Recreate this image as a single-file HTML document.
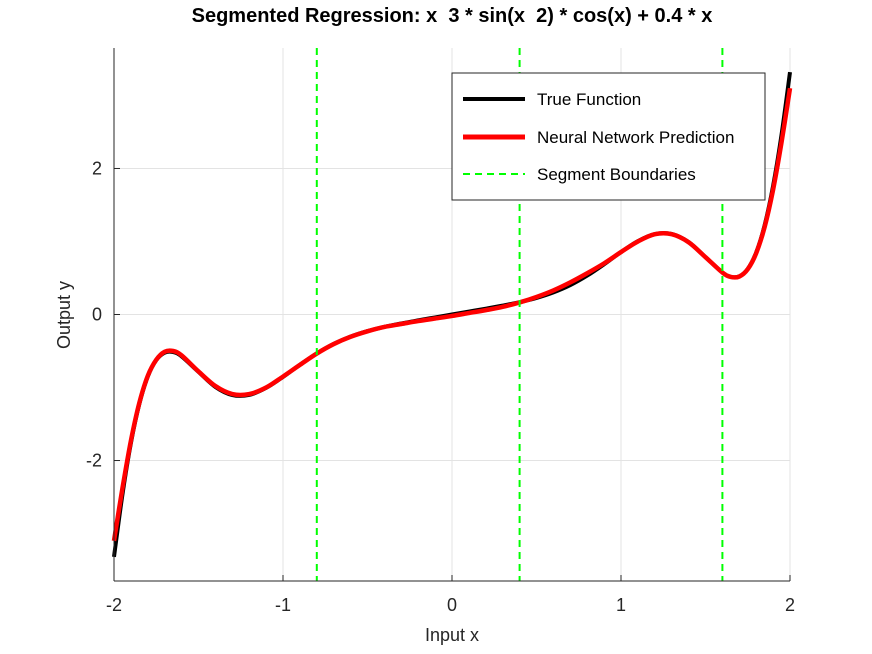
<!DOCTYPE html>
<html><head><meta charset="utf-8"><style>
html,body{margin:0;padding:0;background:#fff;}
svg{display:block;font-family:"Liberation Sans",sans-serif;}
</style></head><body>
<svg id="chart" width="872" height="654" viewBox="0 0 872 654">
<text x="452" y="22" text-anchor="middle" font-size="20" font-weight="bold" fill="#000" style="white-space:pre" xml:space="preserve">Segmented Regression: x  3 * sin(x  2) * cos(x) + 0.4 * x</text>
<g id="grid"></g>
<g id="series"></g>
<g id="axes"></g>
<text x="452" y="641" text-anchor="middle" font-size="18" fill="#262626">Input x</text>
<text x="70" y="315" text-anchor="middle" font-size="18" fill="#262626" transform="rotate(-90 70 315)">Output y</text>
<g>
<rect x="452" y="73" width="313" height="127" fill="#fff" stroke="#262626" stroke-width="1"/>
<line x1="463" y1="99" x2="525" y2="99" stroke="#000" stroke-width="4"/>
<text x="537" y="105" font-size="17" fill="#000">True Function</text>
<line x1="463" y1="137" x2="525" y2="137" stroke="#f00" stroke-width="5"/>
<text x="537" y="143" font-size="17" fill="#000">Neural Network Prediction</text>
<line x1="463" y1="174" x2="525" y2="174" stroke="#0f0" stroke-width="2" stroke-dasharray="7,5"/>
<text x="537" y="180" font-size="17" fill="#000">Segment Boundaries</text>
</g>
</svg>
<script>
const xValues=[-2,-1.95,-1.9,-1.85,-1.8,-1.75,-1.7,-1.65,-1.6,-1.5,-1.4,-1.3,-1.2,-1.1,-1,-0.9,-0.8,-0.7,-0.6,-0.5,-0.4,-0.3,-0.2,-0.1,0,0.1,0.2,0.3,0.4,0.5,0.6,0.7,0.8,0.9,1,1.1,1.2,1.3,1.4,1.5,1.6,1.65,1.7,1.75,1.8,1.85,1.9,1.95,2];
const trueValues=[-3.319,-2.464,-1.762,-1.225,-0.850,-0.625,-0.523,-0.515,-0.574,-0.786,-0.992,-1.103,-1.101,-1.005,-0.855,-0.688,-0.533,-0.403,-0.303,-0.227,-0.169,-0.122,-0.080,-0.040,0,0.040,0.080,0.122,0.169,0.227,0.303,0.403,0.533,0.688,0.855,1.005,1.101,1.103,0.992,0.786,0.574,0.515,0.523,0.625,0.850,1.225,1.762,2.464,3.319];
const predValues=[-3.10,-2.38,-1.73,-1.21,-0.84,-0.62,-0.51,-0.50,-0.56,-0.78,-0.98,-1.09,-1.09,-1.00,-0.85,-0.69,-0.535,-0.405,-0.305,-0.23,-0.17,-0.13,-0.09,-0.055,-0.02,0.02,0.06,0.105,0.165,0.24,0.33,0.44,0.565,0.70,0.855,1.00,1.10,1.10,0.99,0.785,0.575,0.515,0.52,0.62,0.84,1.20,1.71,2.36,3.10];
const boundaries=[-0.8,0.4,1.6];
const xTicks=[-2,-1,0,1,2];
const yTicks=[-2,0,2];
const NS="http://www.w3.org/2000/svg";
const L=114,R=790,T=48,B=581,xmin=-2,xmax=2,ymin=-3.65,ymax=3.65;
function sx(v){return L+(v-xmin)/(xmax-xmin)*(R-L);}
function sy(v){return B-(v-ymin)/(ymax-ymin)*(B-T);}
function mk(tag,attrs,parent){const e=document.createElementNS(NS,tag);for(const k in attrs)e.setAttribute(k,attrs[k]);parent.appendChild(e);return e;}
const grid=document.getElementById('grid'),axes=document.getElementById('axes'),series=document.getElementById('series');
xTicks.forEach(t=>{
 const g=mk('line',{x1:sx(t),x2:sx(t),y1:T,y2:B,stroke:'#e3e3e3','stroke-width':1},grid);
 
 
 const tk=mk('line',{x1:sx(t),x2:sx(t),y1:B,y2:B-6,stroke:'#262626','stroke-width':1},axes);
 
 
 const lb=mk('text',{x:sx(t),y:B+30,'text-anchor':'middle','font-size':18,fill:'#262626'},axes);
 lb.textContent=String(t);
 
 
});
yTicks.forEach(t=>{
 const g=mk('line',{x1:L,x2:R,y1:sy(t),y2:sy(t),stroke:'#e3e3e3','stroke-width':1},grid);
 
 
 const tk=mk('line',{x1:L,x2:L+6,y1:sy(t),y2:sy(t),stroke:'#262626','stroke-width':1},axes);
 
 
 const lb=mk('text',{x:L-12,y:sy(t)+6,'text-anchor':'end','font-size':18,fill:'#262626'},axes);
 lb.textContent=String(t);
 
 
});
const ax1=mk('line',{x1:L,x2:L,y1:T,y2:B,stroke:'#262626','stroke-width':1},axes);


const ax2=mk('line',{x1:L,x2:R,y1:B,y2:B,stroke:'#262626','stroke-width':1},axes);


function smooth(xs,ys){
 const p=xs.map((x,i)=>[sx(x),sy(ys[i])]);
 let d='M'+p[0][0]+','+p[0][1];
 for(let i=0;i<p.length-1;i++){
  const p0=p[Math.max(i-1,0)],p1=p[i],p2=p[i+1],p3=p[Math.min(i+2,p.length-1)];
  const c1=[p1[0]+(p2[0]-p0[0])/6,p1[1]+(p2[1]-p0[1])/6];
  const c2=[p2[0]-(p3[0]-p1[0])/6,p2[1]-(p3[1]-p1[1])/6];
  d+=' C'+c1[0]+','+c1[1]+' '+c2[0]+','+c2[1]+' '+p2[0]+','+p2[1];
 }
 return d;
}
const tl=mk('path',{d:smooth(xValues,trueValues),fill:'none',stroke:'#000','stroke-width':4},series);


const pl=mk('path',{d:smooth(xValues,predValues),fill:'none',stroke:'#f00','stroke-width':4.5},series);


boundaries.forEach(b=>{
 const l=mk('line',{x1:sx(b),x2:sx(b),y1:T,y2:B,stroke:'#0f0','stroke-width':2,'stroke-dasharray':'7,5'},series);
 
 
});
</script>
</body></html>
